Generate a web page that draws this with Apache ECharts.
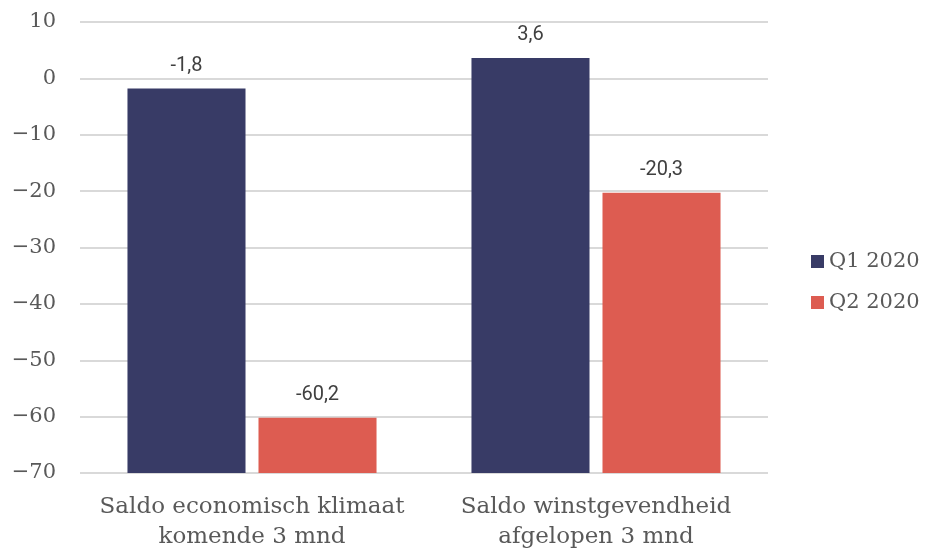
<!DOCTYPE html>
<html>
<head>
<meta charset="utf-8">
<script src="https://cdn.jsdelivr.net/npm/echarts@6/dist/echarts.min.js"></script>
<style>html,body{margin:0;padding:0;background:#fff}#c{width:928px;height:552px}</style>
</head>
<body>
<div id="c"></div>
<script>
const categories = ['Saldo economisch klimaat\nkomende 3 mnd', 'Saldo winstgevendheid\nafgelopen 3 mnd'];
const seriesNames = ['Q1 2020', 'Q2 2020'];
const q1Values = [-1.8, 3.6];
const q2Values = [-60.2, -20.3];
const yMin = -70, yMax = 10, yStep = 10;

const chart = echarts.init(document.getElementById('c'));
const serif = 'DejaVu Serif';
const labelCfg = {
  show: true, position: 'top', distance: 11,
  fontFamily: 'Roboto', fontSize: 20, color: '#404040',
  backgroundColor: '#fff', padding: [2, 7],
  formatter: p => String(p.value).replace('.', ',')
};
chart.setOption({
  animation: false,
  grid: { left: 80, right: 160, top: 22, bottom: 77 },
  legend: {
    orient: 'vertical', left: 806, top: 246, itemGap: 20,
    icon: 'rect', itemWidth: 13, itemHeight: 13, itemStyle: { borderWidth: 0 },
    textStyle: { fontFamily: serif, fontSize: 21, color: '#595959' },
    data: seriesNames
  },
  xAxis: {
    type: 'category', data: categories,
    axisLine: { show: false }, axisTick: { show: false },
    axisLabel: { interval: 0, fontFamily: serif, fontSize: 23, color: '#595959', lineHeight: 30, margin: 19 }
  },
  yAxis: {
    type: 'value', min: yMin, max: yMax, interval: yStep, startValue: yMin,
    axisLine: { show: false }, axisTick: { show: false },
    splitLine: { lineStyle: { color: '#d9d9d9', width: 2 } },
    axisLabel: { fontFamily: serif, fontSize: 21, color: '#595959', margin: 24,
      formatter: v => String(v).replace('-', '\u2212') }
  },
  series: [
    { name: seriesNames[0], type: 'bar', data: q1Values, itemStyle: { color: '#383b66' },
      barGap: '11%', barCategoryGap: '27.6%', label: labelCfg },
    { name: seriesNames[1], type: 'bar', data: q2Values, itemStyle: { color: '#dd5c51' },
      label: labelCfg }
  ]
});
</script>
</body>
</html>
